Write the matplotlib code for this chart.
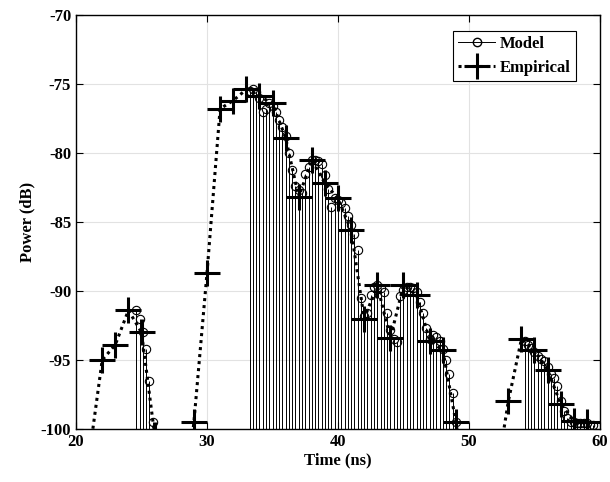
import numpy as np
import matplotlib.pyplot as plt
from matplotlib.lines import Line2D

plt.rcParams['font.family'] = ['Liberation Serif', 'DejaVu Serif']
plt.rcParams['font.weight'] = 'bold'
plt.rcParams['axes.unicode_minus'] = False

# empirical power delay profile, 1 ns bins
emp_t = [21, 22, 23, 24, 25, 26, 27, 28, 29, 30, 31, 32, 33, 34, 35, 36, 37, 38, 39, 40,
         41, 42, 43, 44, 45, 46, 47, 48, 49, 50, 51, 52, 53, 54, 55, 56, 57, 58, 59]
emp_p = [-102.0, -95.0, -93.9, -91.4, -93.0, -100.4, -108.0, -108.0, -99.5, -88.7,
         -76.8, -76.2, -75.4, -75.9, -76.4, -78.9, -83.2, -80.5, -82.2, -83.3,
         -85.6, -92.0, -89.6, -93.4, -89.6, -90.3, -93.6, -94.3, -99.5, -106.0,
         -110.0, -104.0, -98.0, -93.5, -94.3, -95.7, -98.2, -99.4, -99.5]

# model taps, 0.25 ns sampling, three clusters
dt = 0.25
c1_start = 24.6
c1_p = [-91.4, -92.0, -93.0, -94.2, -96.5, -99.5]
c2_start = 33.25
c2_p = [-75.5, -75.4, -75.6, -76.0, -77.0, -76.8, -76.4, -76.6, -77.0, -77.6,
        -78.1, -78.8, -80.0, -81.2, -82.4, -82.7, -82.9, -81.5, -81.0, -80.5,
        -80.5, -80.6, -80.8, -81.6, -82.6, -83.9, -83.3, -83.4, -83.6, -84.0,
        -84.6, -85.2, -85.9, -87.0, -90.5, -91.8, -91.6, -90.3, -89.7, -89.6,
        -89.8, -90.1, -91.6, -92.8, -93.5, -93.7, -90.4, -89.9, -89.7, -89.7,
        -89.8, -90.1, -90.8, -91.6, -92.7, -93.5, -93.2, -93.3, -93.6, -94.2,
        -95.0, -96.0, -97.4, -99.5]
c3_start = 54.25
c3_p = [-93.6, -93.9, -94.1, -94.4, -94.7, -94.9, -95.1, -95.5, -96.0, -96.3,
        -96.9, -98.0, -98.7, -99.2, -99.5, -99.5, -99.6, -99.6, -99.6, -99.6,
        -99.7, -99.7]

model_t = np.concatenate([c1_start + dt * np.arange(len(c1_p)),
                          c2_start + dt * np.arange(len(c2_p)),
                          c3_start + dt * np.arange(len(c3_p))])
model_p = np.array(c1_p + c2_p + c3_p)

fig = plt.figure(figsize=(6.1, 4.82), dpi=100)
ax = fig.add_axes([0.1246, 0.110, 0.859, 0.859])

ax.vlines(model_t, -100, model_p, colors='k', linewidth=0.7, zorder=2)
ax.plot(model_t, model_p, linestyle='none', marker='o', ms=6, mfc='none',
        mec='k', mew=0.8, zorder=3)
ax.plot(emp_t, emp_p, color='k', linestyle=(0, (1, 1.3)), linewidth=2.2,
        marker='+', ms=19, mew=2.2, zorder=4)

ax.set_xlim(20, 60)
ax.set_ylim(-100, -70)
ax.set_xticks([20, 30, 40, 50, 60])
ax.set_yticks([-100, -95, -90, -85, -80, -75, -70])
ax.grid(True, color='#e2e2e2', linewidth=0.8, zorder=0)
ax.set_axisbelow(True)
ax.tick_params(direction='in', top=True, right=True, labelsize=12, length=5)
for s in ax.spines.values():
    s.set_linewidth(1.0)
ax.set_xlabel('Time (ns)', fontsize=12, fontweight='bold', labelpad=2)
ax.set_ylabel('Power (dB)', fontsize=12, fontweight='bold', labelpad=4)

handles = [Line2D([], [], color='k', linewidth=0.7, marker='o', ms=6, mfc='none',
                  mec='k', markevery=[1]),
           Line2D([], [], color='k', linestyle=(0, (1, 1.3)), linewidth=2.2,
                  marker='+', ms=19, mew=2.2, markevery=[1])]
leg = ax.legend(handles, ['Model', 'Empirical'], loc='upper right', fontsize=12,
                bbox_to_anchor=(0.954, 0.962), borderaxespad=0,
                fancybox=False, edgecolor='k', framealpha=1, handlelength=2.2,
                handletextpad=0.3, borderpad=0.3, labelspacing=0.5)
leg.get_frame().set_linewidth(0.8)

fig.savefig('out.png', dpi=100)
